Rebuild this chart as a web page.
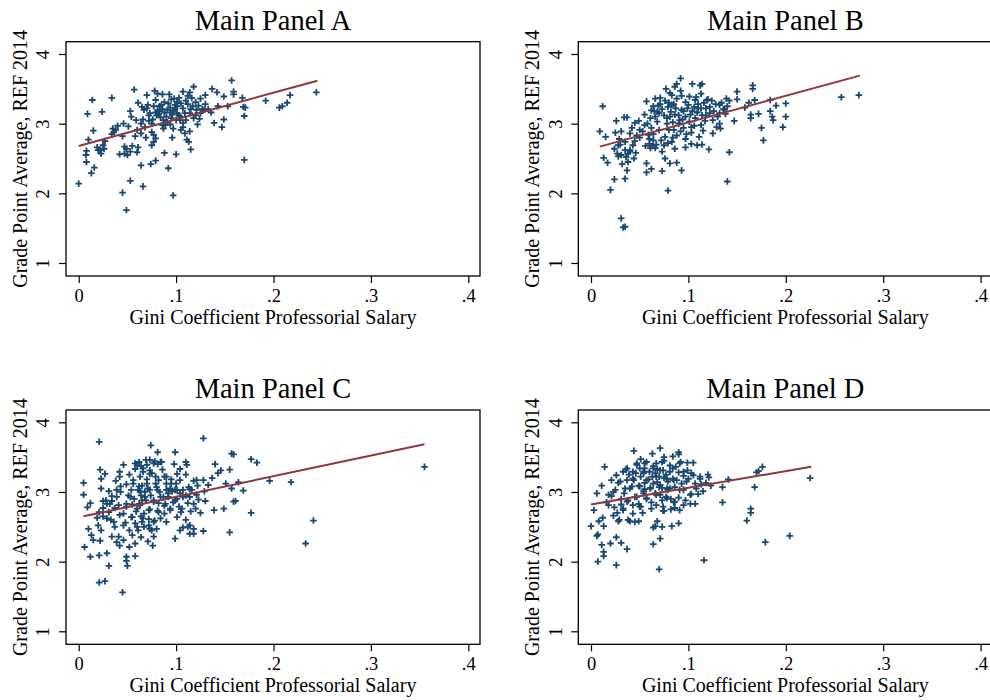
<!DOCTYPE html>
<html>
<head>
<meta charset="utf-8">
<script src="https://cdn.jsdelivr.net/npm/d3@7"></script>
<style>
  body { margin: 0; background: #fff; }
  text { font-family: 'Liberation Serif', 'Times New Roman', serif; fill: #000; }
</style>
</head>
<body>
<div id="chart"></div>
<script>
const xTicks = [0, 0.1, 0.2, 0.3, 0.4]
const xTickLabels = ['0', '.1', '.2', '.3', '.4']
const yTicks = [1, 2, 3, 4]
const titles = ['Main Panel A', 'Main Panel B', 'Main Panel C', 'Main Panel D']
const xTitle = 'Gini Coefficient Professorial Salary'
const yTitle = 'Grade Point Average, REF 2014'

// [gini, gpa]
const pointsA = [[0,2.14],[0.014,3.34],[0.009,3.14],[0.034,3.37],[0.024,3.17],[0.015,2.90],[0.010,2.77],[0.008,2.61],[0.0075,2.55],[0.008,2.45],[0.016,2.37],[0.013,2.29],[0.019,2.66],[0.022,2.62],[0.026,2.64],[0.023,2.57],[0.027,2.75],[0.035,2.93],[0.034,2.85],[0.036,2.88],[0.045,2.82],[0.046,3.00],[0.042,2.56],[0.047,2.57],[0.050,2.55],[0.053,2.60],[0.060,2.59],[0.061,2.66],[0.047,2.67],[0.053,2.18],[0.045,2.01],[0.049,1.76],[0.066,2.10],[0.064,2.40],[0.057,3.49],[0.053,3.18],[0.054,3.10],[0.051,2.96],[0.061,3.30],[0.059,3.05],[0.060,2.91],[0.064,2.86],[0.066,3.06],[0.070,3.41],[0.071,3.27],[0.067,3.20],[0.072,3.04],[0.075,2.88],[0.077,2.74],[0.075,2.69],[0.074,2.42],[0.079,2.47],[0.078,3.47],[0.081,3.43],[0.086,3.42],[0.093,3.42],[0.077,3.25],[0.081,3.19],[0.079,3.16],[0.082,3.14],[0.086,3.21],[0.088,3.16],[0.084,3.09],[0.087,3.05],[0.090,3.10],[0.092,3.29],[0.094,3.23],[0.097,3.19],[0.096,3.13],[0.098,3.36],[0.101,3.31],[0.103,3.37],[0.101,3.25],[0.105,3.29],[0.094,2.99],[0.097,2.93],[0.096,2.80],[0.087,2.93],[0.086,2.98],[0.077,2.84],[0.079,2.79],[0.092,2.36],[0.088,2.58],[0.100,2.56],[0.097,1.97],[0.104,3.10],[0.107,3.01],[0.105,2.91],[0.109,3.15],[0.109,2.86],[0.111,2.77],[0.113,2.74],[0.115,2.63],[0.107,3.46],[0.110,3.33],[0.114,3.45],[0.118,3.53],[0.116,3.37],[0.120,3.31],[0.115,3.21],[0.121,3.20],[0.118,3.08],[0.124,3.07],[0.125,3.15],[0.122,2.99],[0.125,3.36],[0.130,3.41],[0.129,3.20],[0.133,3.21],[0.136,3.16],[0.137,3.50],[0.142,3.45],[0.143,3.25],[0.149,3.39],[0.149,3.06],[0.139,3.01],[0.147,2.95],[0.153,3.25],[0.157,3.62],[0.159,3.46],[0.159,3.42],[0.168,3.37],[0.169,3.24],[0.171,3.23],[0.170,3.11],[0.170,2.48],[0.192,3.33],[0.206,3.23],[0.209,3.25],[0.214,3.30],[0.217,3.41],[0.244,3.45],[0.068,2.95],[0.064,3.00],[0.073,3.15],[0.079,3.34],[0.070,3.22],[0.089,2.98],[0.100,3.05],[0.075,3.00],[0.040,2.97],[0.038,2.91],[0.025,2.69],[0.020,2.62],[0.049,2.64],[0.107,2.95],[0.114,2.89],[0.110,3.05],[0.083,3.25],[0.088,3.31],[0.094,3.16],[0.101,3.15],[0.099,3.27],[0.114,3.15],[0.127,3.21],[0.123,3.26],[0.080,3.12],[0.083,3.18],[0.091,3.20],[0.095,3.08],[0.099,3.21],[0.103,3.12],[0.107,3.22],[0.112,3.28],[0.085,3.27],[0.076,3.06],[0.091,3.02],[0.104,3.05],[0.117,3.25],[0.120,3.12],[0.095,3.35],[0.072,3.12],[0.065,3.24],[0.112,3.40],[0.130,3.28],[0.058,2.82],[0.069,2.80],[0.055,2.68]]

const pointsB = [[0.009,2.89],[0.012,3.25],[0.015,2.81],[0.013,2.51],[0.017,2.44],[0.020,2.05],[0.024,2.20],[0.025,2.87],[0.031,2.89],[0.026,3.04],[0.034,3.09],[0.037,3.09],[0.024,2.64],[0.027,2.57],[0.028,2.53],[0.032,2.42],[0.037,2.33],[0.035,2.21],[0.031,1.64],[0.033,1.51],[0.035,1.52],[0.038,2.57],[0.040,2.62],[0.036,2.52],[0.046,2.58],[0.043,2.69],[0.040,2.86],[0.042,2.94],[0.045,3.01],[0.049,3.04],[0.053,2.89],[0.055,3.13],[0.057,2.30],[0.057,2.43],[0.062,2.35],[0.057,3.32],[0.062,3.19],[0.060,2.71],[0.063,2.68],[0.066,3.36],[0.071,3.37],[0.066,3.10],[0.068,3.03],[0.070,2.91],[0.073,2.32],[0.076,2.50],[0.075,2.69],[0.076,3.33],[0.079,3.24],[0.081,3.44],[0.083,3.41],[0.086,3.53],[0.088,3.36],[0.092,3.65],[0.081,2.43],[0.088,2.44],[0.093,2.33],[0.079,2.04],[0.086,2.64],[0.083,2.74],[0.088,2.83],[0.081,3.10],[0.084,3.02],[0.090,3.12],[0.093,3.20],[0.095,2.94],[0.098,2.85],[0.097,2.66],[0.103,2.71],[0.103,2.87],[0.100,3.27],[0.104,3.57],[0.112,3.55],[0.114,3.57],[0.107,3.34],[0.110,3.28],[0.114,3.12],[0.111,2.81],[0.109,2.69],[0.114,2.70],[0.121,2.63],[0.125,2.86],[0.129,2.95],[0.133,2.93],[0.122,3.15],[0.124,3.33],[0.128,3.28],[0.132,3.15],[0.136,3.21],[0.139,3.36],[0.142,3.33],[0.140,2.17],[0.142,2.59],[0.147,3.04],[0.150,3.46],[0.150,3.35],[0.158,3.23],[0.162,3.30],[0.164,3.13],[0.164,3.08],[0.166,3.55],[0.166,3.50],[0.168,3.34],[0.172,3.14],[0.175,2.94],[0.177,2.76],[0.184,3.34],[0.184,3.18],[0.186,3.10],[0.187,3.05],[0.190,3.26],[0.197,2.95],[0.200,3.29],[0.200,3.10],[0.257,3.38],[0.275,3.41],[0.062,2.94],[0.064,2.85],[0.068,3.17],[0.073,3.21],[0.075,3.12],[0.078,3.00],[0.080,2.91],[0.082,3.17],[0.086,3.13],[0.090,3.00],[0.094,3.06],[0.097,3.10],[0.101,3.03],[0.104,3.18],[0.107,3.08],[0.110,3.22],[0.116,3.30],[0.118,3.22],[0.117,3.04],[0.113,2.98],[0.103,2.95],[0.092,2.89],[0.085,2.91],[0.076,2.81],[0.072,2.76],[0.064,2.76],[0.059,2.84],[0.055,2.98],[0.061,3.08],[0.064,3.25],[0.071,3.28],[0.085,3.28],[0.097,3.31],[0.101,3.39],[0.113,3.43],[0.119,3.34],[0.132,3.27],[0.138,3.14],[0.140,3.25],[0.044,2.50],[0.031,2.55],[0.038,2.45],[0.028,2.69],[0.029,2.78],[0.035,2.74],[0.047,2.83],[0.050,2.91],[0.077,3.50],[0.088,3.57],[0.092,3.47],[0.073,2.60],[0.066,2.65],[0.061,2.65],[0.056,2.68],[0.065,3.18],[0.070,3.15],[0.078,3.08],[0.083,3.27],[0.087,3.22],[0.091,3.05],[0.095,3.18],[0.099,3.22],[0.102,3.13],[0.106,3.24],[0.109,3.16],[0.113,3.22],[0.118,3.12],[0.122,3.24],[0.126,3.18],[0.130,3.10],[0.134,3.30],[0.137,3.20],[0.120,3.35],[0.108,3.38],[0.093,3.40],[0.080,3.30],[0.069,3.26],[0.058,3.00],[0.060,2.78],[0.067,2.70],[0.079,2.72],[0.084,2.80],[0.097,2.78],[0.106,2.97],[0.115,2.90],[0.125,3.05],[0.132,3.00],[0.050,2.80],[0.045,2.75],[0.040,2.60],[0.035,2.62],[0.030,2.70]]

const pointsC = [[0.021,3.72],[0.005,3.13],[0.005,2.96],[0.012,2.84],[0.009,2.78],[0.006,2.21],[0.012,2.07],[0.021,2.09],[0.029,2.12],[0.021,1.70],[0.027,1.72],[0.031,1.94],[0.045,1.56],[0.049,2.07],[0.050,1.94],[0.058,2.08],[0.049,2.01],[0.010,2.47],[0.013,2.38],[0.015,2.31],[0.022,2.30],[0.023,2.45],[0.020,2.52],[0.022,3.32],[0.023,3.19],[0.023,3.05],[0.027,3.26],[0.028,2.88],[0.025,2.77],[0.021,2.71],[0.019,2.63],[0.025,2.65],[0.031,2.71],[0.034,2.87],[0.031,3.01],[0.038,3.16],[0.042,3.29],[0.046,3.39],[0.043,3.08],[0.037,2.77],[0.033,2.60],[0.037,2.50],[0.034,2.36],[0.041,2.36],[0.042,2.23],[0.052,2.21],[0.058,2.26],[0.064,2.35],[0.071,2.29],[0.076,2.23],[0.077,2.36],[0.052,2.45],[0.048,2.56],[0.046,2.69],[0.049,2.83],[0.051,2.95],[0.054,3.03],[0.056,3.17],[0.058,3.33],[0.058,3.41],[0.062,3.43],[0.066,3.29],[0.070,3.39],[0.073,3.46],[0.074,3.67],[0.081,3.57],[0.078,3.44],[0.084,3.43],[0.062,3.08],[0.064,2.95],[0.062,2.83],[0.059,2.72],[0.064,2.65],[0.067,2.50],[0.072,2.52],[0.075,2.45],[0.069,2.88],[0.071,3.05],[0.070,3.18],[0.075,3.27],[0.079,3.12],[0.081,3.03],[0.077,2.86],[0.081,2.73],[0.084,2.62],[0.088,2.69],[0.086,3.32],[0.088,3.22],[0.090,3.12],[0.094,3.05],[0.092,2.93],[0.097,2.85],[0.098,3.40],[0.099,3.57],[0.101,3.26],[0.099,3.03],[0.101,2.90],[0.103,2.79],[0.099,2.33],[0.104,3.17],[0.107,3.03],[0.110,3.25],[0.110,3.43],[0.111,3.39],[0.112,2.84],[0.110,2.60],[0.107,2.49],[0.114,2.40],[0.118,2.47],[0.118,2.40],[0.115,2.72],[0.120,2.76],[0.121,2.96],[0.123,2.89],[0.116,3.03],[0.118,3.16],[0.128,3.77],[0.128,3.17],[0.130,2.87],[0.125,2.70],[0.128,2.44],[0.133,3.10],[0.137,3.20],[0.140,3.40],[0.139,2.74],[0.143,3.27],[0.146,3.31],[0.149,2.76],[0.151,3.12],[0.155,3.32],[0.155,2.42],[0.157,3.55],[0.159,3.54],[0.157,3.05],[0.159,2.86],[0.161,2.87],[0.164,3.14],[0.169,3.02],[0.177,3.47],[0.183,3.42],[0.177,2.70],[0.196,3.16],[0.029,2.62],[0.025,2.87],[0.039,2.93],[0.041,2.81],[0.055,2.64],[0.058,2.55],[0.061,2.45],[0.055,2.38],[0.046,2.31],[0.039,2.28],[0.029,2.83],[0.034,2.94],[0.043,3.00],[0.049,3.11],[0.052,3.25],[0.064,3.37],[0.073,3.31],[0.079,3.22],[0.084,2.93],[0.074,2.95],[0.068,3.00],[0.063,3.01],[0.057,2.90],[0.055,2.82],[0.073,2.75],[0.067,2.69],[0.072,2.61],[0.077,2.57],[0.090,3.03],[0.095,3.18],[0.096,3.01],[0.100,3.12],[0.104,2.98],[0.105,2.71],[0.082,2.84],[0.088,2.80],[0.094,2.76],[0.080,2.47],[0.065,2.57],[0.065,3.09],[0.069,3.46],[0.081,3.40],[0.104,3.33],[0.112,2.50],[0.114,3.04],[0.122,3.09],[0.129,3.01],[0.114,2.93],[0.110,2.95],[0.218,3.14],[0.233,2.26],[0.241,2.59],[0.355,3.36],[0.060,3.38],[0.066,3.34],[0.077,3.41],[0.085,3.43],[0.073,3.26],[0.063,3.22],[0.056,3.12],[0.070,3.12],[0.082,3.17],[0.090,3.22],[0.095,3.12],[0.061,3.03],[0.073,3.03],[0.083,3.00],[0.092,2.98],[0.101,3.03],[0.053,2.93],[0.065,2.88],[0.077,2.88],[0.089,2.83],[0.099,2.88],[0.049,2.79],[0.060,2.76],[0.072,2.74],[0.082,2.71],[0.094,2.74],[0.106,2.76],[0.042,2.67],[0.054,2.64],[0.066,2.62],[0.078,2.59],[0.090,2.57],[0.046,2.52],[0.060,2.50],[0.073,2.47],[0.036,2.57],[0.032,2.83],[0.039,3.03],[0.042,3.22],[0.107,2.93],[0.113,3.07],[0.118,2.83],[0.121,3.17],[0.104,2.45],[0.114,2.52],[0.068,2.93],[0.080,3.07],[0.087,2.93],[0.063,2.81],[0.101,2.64]]

const pointsD = [[0.000,2.51],[0.003,2.74],[0.006,2.98],[0.011,3.09],[0.008,2.58],[0.006,2.37],[0.007,2.39],[0.011,2.24],[0.013,2.14],[0.013,2.08],[0.007,2.00],[0.014,3.36],[0.012,2.63],[0.018,2.81],[0.021,2.94],[0.020,2.26],[0.026,2.35],[0.026,1.95],[0.031,2.27],[0.037,2.18],[0.025,3.03],[0.028,3.13],[0.033,3.29],[0.036,3.32],[0.039,3.25],[0.035,3.05],[0.024,2.78],[0.027,2.70],[0.028,2.58],[0.029,2.60],[0.038,2.60],[0.040,2.58],[0.045,2.57],[0.049,2.58],[0.044,3.59],[0.047,3.41],[0.051,3.47],[0.050,3.34],[0.054,3.27],[0.044,3.17],[0.049,3.09],[0.054,3.01],[0.057,2.90],[0.045,2.93],[0.038,2.88],[0.034,2.98],[0.063,3.55],[0.067,3.41],[0.071,3.63],[0.075,3.50],[0.075,3.45],[0.084,3.51],[0.090,3.57],[0.090,3.54],[0.099,3.42],[0.105,3.42],[0.060,3.29],[0.063,3.22],[0.068,3.14],[0.066,3.27],[0.071,3.31],[0.077,3.25],[0.081,3.29],[0.084,3.19],[0.090,3.28],[0.095,3.23],[0.099,3.31],[0.093,3.12],[0.086,3.07],[0.079,3.03],[0.073,3.06],[0.066,2.98],[0.062,2.85],[0.067,2.81],[0.075,2.73],[0.068,2.58],[0.066,2.51],[0.064,2.49],[0.071,2.33],[0.064,2.25],[0.070,1.89],[0.074,2.73],[0.082,2.75],[0.086,2.77],[0.091,2.74],[0.083,2.51],[0.090,2.55],[0.085,2.85],[0.097,2.88],[0.102,2.83],[0.107,2.83],[0.103,2.97],[0.110,2.97],[0.115,3.01],[0.107,3.12],[0.112,3.22],[0.120,3.25],[0.121,3.21],[0.123,3.09],[0.135,3.07],[0.135,2.85],[0.141,3.18],[0.116,2.02],[0.160,2.59],[0.164,2.76],[0.164,2.70],[0.168,3.07],[0.170,3.28],[0.172,3.30],[0.176,3.36],[0.179,2.28],[0.204,2.37],[0.225,3.20],[0.077,2.93],[0.071,2.96],[0.061,3.06],[0.055,3.13],[0.059,3.18],[0.064,3.37],[0.055,3.34],[0.051,3.22],[0.046,3.27],[0.042,3.08],[0.037,3.17],[0.031,2.90],[0.031,2.82],[0.021,3.17],[0.018,2.96],[0.016,2.85],[0.023,2.66],[0.049,2.83],[0.051,2.79],[0.053,2.70],[0.043,2.81],[0.079,3.15],[0.085,3.17],[0.075,3.20],[0.081,3.38],[0.087,3.36],[0.092,3.43],[0.095,3.03],[0.090,2.92],[0.082,2.90],[0.073,2.88],[0.070,3.07],[0.070,3.22],[0.068,3.33],[0.057,3.43],[0.055,3.04],[0.033,2.76],[0.113,3.11],[0.118,3.13],[0.100,3.19],[0.103,3.27],[0.073,2.50],[0.013,2.51],[0.037,3.34],[0.047,3.39],[0.054,3.29],[0.064,3.34],[0.074,3.31],[0.084,3.34],[0.095,3.29],[0.105,3.24],[0.043,3.19],[0.057,3.17],[0.067,3.22],[0.078,3.19],[0.088,3.17],[0.098,3.15],[0.030,3.15],[0.040,3.05],[0.050,3.08],[0.061,3.05],[0.071,3.10],[0.081,3.05],[0.091,3.03],[0.047,2.93],[0.057,2.91],[0.067,2.96],[0.078,2.91],[0.086,2.86],[0.037,2.86],[0.050,2.79],[0.062,2.76],[0.074,2.79],[0.023,3.00],[0.026,3.24],[0.102,2.96],[0.108,3.05],[0.112,3.19],[0.043,3.29],[0.055,3.41],[0.073,3.43],[0.091,3.41],[0.078,3.05],[0.064,3.12],[0.054,2.98],[0.095,2.81],[0.033,2.74],[0.043,2.69]]

// fitted lines: [start, end]
const fitA = [[0, 2.68], [0.245, 3.617]]
const fitB = [[0.009, 2.67], [0.276, 3.69]]
const fitC = [[0.005, 2.65], [0.355, 3.684]]
const fitD = [[0, 2.82], [0.226, 3.362]]

const allPoints = [pointsA, pointsB, pointsC, pointsD]
const allFits = [fitA, fitB, fitC, fitD]

const boxWidth = 414
const boxHeight = 234.3
const boxes = [
  { left: 66, top: 41.7 },
  { left: 578.3, top: 41.7 },
  { left: 66, top: 410 },
  { left: 578.3, top: 410 }
]

const svg = d3
  .select('#chart')
  .append('svg')
  .attr('width', 990)
  .attr('height', 700)

boxes.forEach((box, i) => {
  const g = svg
    .append('g')
    .attr('transform', 'translate(' + box.left + ',' + box.top + ')')

  const xPositionScale = d3
    .scaleLinear()
    .domain([0, 0.4])
    .range([12.7, 402.3])

  const yPositionScale = d3
    .scaleLinear()
    .domain([1, 4])
    .range([221.3, 12.3])

  g.append('rect')
    .attr('width', boxWidth)
    .attr('height', boxHeight)
    .attr('fill', 'none')
    .attr('stroke', '#000')
    .attr('stroke-width', 1.3)

  // title
  g.append('text')
    .attr('x', boxWidth / 2)
    .attr('y', -12)
    .attr('text-anchor', 'middle')
    .attr('font-size', 28.5)
    .text(titles[i])

  const xAxis = d3
    .axisBottom(xPositionScale)
    .tickValues(xTicks)
    .tickFormat((d, j) => xTickLabels[j])
    .tickSize(7)

  const xg = g
    .append('g')
    .attr('class', 'axis x-axis')
    .attr('transform', 'translate(0,' + boxHeight + ')')
    .call(xAxis)
  xg.select('.domain').remove()
  xg.selectAll('line').attr('stroke', '#000').attr('stroke-width', 1.2)
  xg.selectAll('text')
    .attr('y', 25.7)
    .attr('dy', 0)
    .attr('font-size', 18.5)
    .attr('font-family', 'Liberation Serif')
    .attr('fill', '#000')

  const yAxis = d3
    .axisLeft(yPositionScale)
    .tickValues(yTicks)
    .tickFormat(d3.format('d'))
    .tickSize(7)

  const yg = g
    .append('g')
    .attr('class', 'axis y-axis')
    .call(yAxis)
  yg.select('.domain').remove()
  yg.selectAll('line').attr('stroke', '#000').attr('stroke-width', 1.2)
  yg.selectAll('text')
    .attr('x', 0)
    .attr('y', -16.7)
    .attr('dy', 0)
    .attr('text-anchor', 'middle')
    .attr('transform', 'rotate(-90)')
    .attr('font-size', 18.5)
    .attr('font-family', 'Liberation Serif')
    .attr('fill', '#000')

  // axis titles
  g.append('text')
    .attr('x', boxWidth / 2)
    .attr('y', boxHeight + 48)
    .attr('text-anchor', 'middle')
    .attr('font-size', 20)
    .text(xTitle)

  g.append('text')
    .attr('transform', 'translate(-39.5,' + boxHeight / 2 + ') rotate(-90)')
    .attr('text-anchor', 'middle')
    .attr('font-size', 20)
    .text(yTitle)

  // scatter markers
  g.selectAll('.pt')
    .data(allPoints[i])
    .enter()
    .append('path')
    .attr('class', 'pt')
    .attr('d', 'M-3.3,0H3.3M0,-3.3V3.3')
    .attr('stroke', '#1a476f')
    .attr('stroke-width', 1.8)
    .attr('transform', d => {
      return 'translate(' + xPositionScale(d[0]) + ',' + yPositionScale(d[1]) + ')'
    })

  const line = d3
    .line()
    .x(d => xPositionScale(d[0]))
    .y(d => yPositionScale(d[1]))

  g.append('path')
    .datum(allFits[i])
    .attr('d', line)
    .attr('fill', 'none')
    .attr('stroke', '#90353b')
    .attr('stroke-width', 2)
})
</script>
</body>
</html>
